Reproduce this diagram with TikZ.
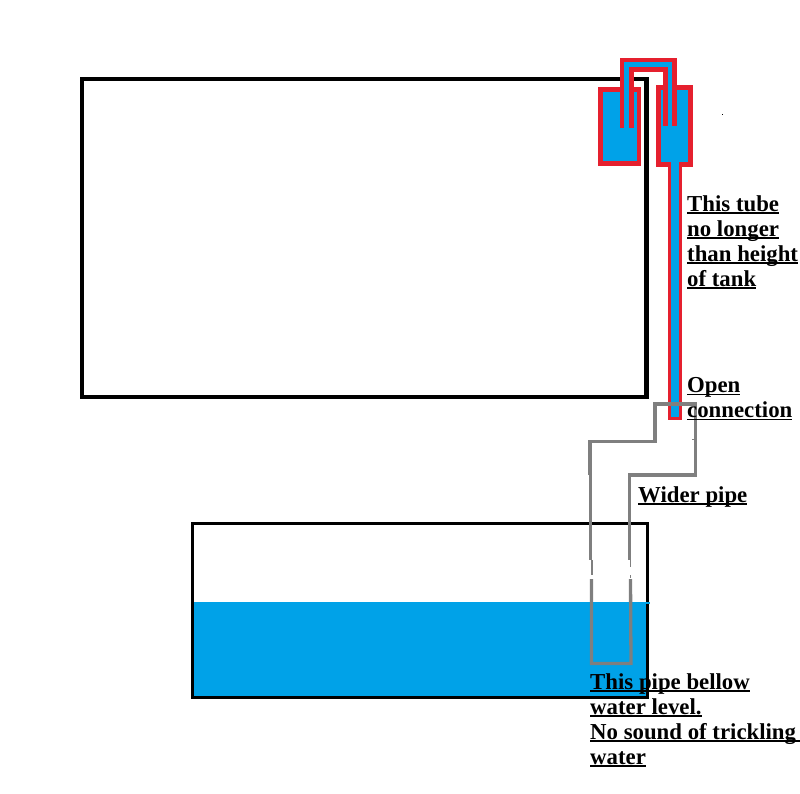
\documentclass[tikz,border=0pt]{standalone}
\usepackage{fontspec}
\setmainfont{Liberation Serif}
\usepackage{tikz}
\definecolor{cwater}{HTML}{00A2E8}
\definecolor{ctube}{HTML}{E5202E}
\definecolor{cpipe}{HTML}{7F7F7F}
\newcommand{\ulin}[1]{\sbox0{#1}\rlap{\rule[-3pt]{\wd0}{1.7pt}}\box0}
\tikzset{
  tankwall/.style={draw=black, line width=4.6pt, miter limit=10},
  sumpwall/.style={draw=black, line width=3pt},
  cupn/.style={draw=ctube, fill=cwater, line width=4.6pt},
  hose/.style={draw=ctube, line width=14pt},
  hosecore/.style={draw=cwater, line width=4.6pt},
  pipen/.style={draw=cpipe, line width=3.3pt},
  pipethin/.style={draw=cpipe, line width=1.8pt},
  lbl/.style={anchor=north west, inner sep=0pt, align=left, font=\fontsize{22.8}{25}\selectfont\bfseries},
}
\begin{document}
\begin{tikzpicture}[x=1pt,y=-1pt]
\useasboundingbox (0,0) rectangle (800,793);
% ---------------- display tank
\draw[tankwall] (82,79) rectangle (646.5,397);
% ---------------- sump and its water
\fill[cwater] (192,602) rectangle (647,697);
\draw[sumpwall] (192.5,523.5) rectangle (647.5,697.5);
\fill[cwater] (640,601.5) rectangle (650,604);
% ---------------- cups on the rim
\draw[cupn] (600.5,89.5) rectangle (639,163.5);
\draw[cupn] (658.5,87.5) rectangle (690.5,164.5);
% ---------------- drain tube
\fill[ctube] (667.5,165) rectangle (681.5,420);
\fill[cwater] (671,160) rectangle (678.5,417);
% ---------------- siphon over the rim
\draw[hose] (626.5,128) |- (670,64.5) -- (670,126);
\draw[hosecore] (626.5,128) |- (670,64.5) -- (670,126);
% ---------------- wider pipe, drawn in pieces
\draw[pipen] (590,475) |- (655,441.5) |- (695.5,404) |- (629.5,475) -- (629.5,560);
\draw[pipen] (590.5,474) -- (590.5,560);
\draw[pipethin] (592,560) -- (592,575);
\draw[pipethin] (630.5,560) -- (630.5,567);
\draw[pipethin] (630.5,575) -- (630.5,578);
\draw[pipen] (591.5,579) |- (631,663.5) -- (630.5,579);
\draw[cpipe, line width=1pt] (692,439.5) -- (695,439.5);
% ---------------- speck
\fill[black] (722,114) rectangle (723,115);
% ---------------- labels
\node[lbl] (tubetxt) at (687,195) {\ulin{This tube}\\\ulin{no longer}\\\ulin{than height}\\\ulin{of tank}};
\node[lbl] (opentxt) at (687,377) {\ulin{Open}\\\ulin{connection}};
\node[lbl] (widertxt) at (638,486) {\ulin{Wider pipe}};
\node[lbl] (belowtxt) at (590,673) {\ulin{This pipe bellow}\\\ulin{water level.}\\\ulin{No sound of trickling }\\\ulin{water}};
\end{tikzpicture}
\end{document}
